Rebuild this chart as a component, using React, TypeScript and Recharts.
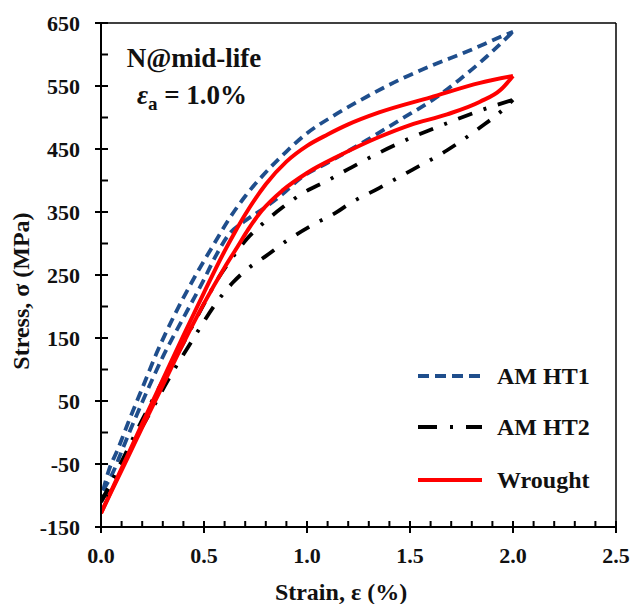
import { LineChart, Line, XAxis, YAxis, ReferenceLine } from "recharts";

// strain (%) / stress (MPa) pairs, each loop split into its two branches
const ht1Upper: [number, number][] = [
  [0.01, -92], [0.04, -58], [0.08, -28], [0.13, 14], [0.2, 70], [0.27, 126],
  [0.35, 182], [0.45, 244], [0.55, 300], [0.62, 338], [0.7, 375], [0.8, 413],
  [0.9, 446], [1.0, 475], [1.13, 503], [1.29, 533], [1.45, 560], [1.61, 583],
  [1.78, 605], [1.94, 628], [2.0, 636],
];
const ht1Lower: [number, number][] = [
  [0.01, -92], [0.06, -62], [0.1, -30], [0.15, 10], [0.2, 48], [0.3, 120],
  [0.4, 182], [0.5, 243], [0.56, 282], [0.62, 314], [0.7, 336], [0.8, 358],
  [0.88, 378], [0.97, 404], [1.1, 428], [1.29, 464], [1.45, 496], [1.61, 528],
  [1.74, 560], [1.87, 596], [2.0, 636],
];
const ht2Upper: [number, number][] = [
  [0, -110], [0.06, -72], [0.1, -46], [0.2, 20], [0.3, 82], [0.4, 142],
  [0.5, 204], [0.56, 240], [0.63, 274], [0.71, 308], [0.79, 333], [0.88, 357],
  [0.98, 380], [1.1, 400], [1.2, 418], [1.35, 444], [1.5, 467], [1.68, 491],
  [1.84, 511], [2.0, 528],
];
const ht2Lower: [number, number][] = [
  [0, -110], [0.05, -82], [0.1, -52], [0.18, -2], [0.25, 38], [0.32, 80],
  [0.37, 108], [0.42, 134], [0.48, 166], [0.56, 206], [0.64, 238], [0.72, 262],
  [0.8, 280], [0.9, 304], [1.03, 330], [1.15, 351], [1.2, 362], [1.35, 388],
  [1.5, 415], [1.68, 448], [1.84, 484], [1.95, 512], [2.0, 528],
];
const wroughtUpper: [number, number][] = [
  [0, -128], [0.1, -57], [0.2, 14], [0.3, 84], [0.4, 154], [0.5, 222],
  [0.6, 288], [0.65, 318], [0.7, 346], [0.8, 394], [0.9, 430], [1.0, 455],
  [1.1, 473], [1.2, 489], [1.35, 508], [1.6, 532], [1.84, 555], [2.0, 566],
];
const wroughtLower: [number, number][] = [
  [0, -128], [0.1, -60], [0.2, 8], [0.3, 75], [0.4, 142], [0.5, 205],
  [0.6, 262], [0.665, 296], [0.714, 322], [0.78, 352], [0.88, 384], [1.0, 412],
  [1.16, 440], [1.35, 469], [1.5, 488], [1.68, 505], [1.84, 525], [1.94, 544],
  [2.0, 566],
];

const strainTicks = [
  0, 0.1, 0.2, 0.3, 0.4, 0.5, 0.6, 0.7, 0.8, 0.9, 1.0, 1.1, 1.2, 1.3, 1.4,
  1.5, 1.6, 1.7, 1.8, 1.9, 2.0, 2.1, 2.2, 2.3, 2.4, 2.5,
];
const stressTicks = [
  -150, -100, -50, 0, 50, 100, 150, 200, 250, 300, 350, 400, 450, 500, 550,
  600, 650,
];

const W = 634;
const H = 604;
const LEFT = 101;
const BOTTOM = 527;
const FONT = "'Liberation Serif', 'Times New Roman', serif";
const INK = "#111";
const BLUE = "#1F4E8C";
const RED = "#FF0000";

const toPoints = (pairs: [number, number][]) =>
  pairs.map(([x, y]) => ({ x, y }));

const XTick = (props: any) => {
  const { x, payload } = props;
  const v = payload.value as number;
  const major = Math.round(v * 10) % 5 === 0;
  return (
    <g>
      <line
        x1={x}
        x2={x}
        y1={BOTTOM - 6}
        y2={major ? BOTTOM + 6 : BOTTOM}
        stroke="#000"
        strokeWidth={2}
      />
      {major && (
        <text
          x={x}
          y={BOTTOM + 28}
          textAnchor="middle"
          dominantBaseline="central"
          fontFamily={FONT}
          fontWeight="bold"
          fontSize={22}
          fill={INK}
        >
          {v.toFixed(1)}
        </text>
      )}
    </g>
  );
};

const YTick = (props: any) => {
  const { y, payload } = props;
  const v = payload.value as number;
  const major = (v + 150) % 100 === 0;
  return (
    <g>
      <line
        x1={major ? LEFT - 6 : LEFT}
        x2={LEFT + 7}
        y1={y}
        y2={y}
        stroke="#000"
        strokeWidth={2}
      />
      {major && (
        <text
          x={LEFT - 21}
          y={y}
          textAnchor="end"
          dominantBaseline="central"
          fontFamily={FONT}
          fontWeight="bold"
          fontSize={22}
          fill={INK}
        >
          {v}
        </text>
      )}
    </g>
  );
};

const series = [
  { key: "ht1u", data: ht1Upper, color: BLUE, dash: "10 6", width: 3.8 },
  { key: "ht1l", data: ht1Lower, color: BLUE, dash: "10 6", width: 3.8 },
  { key: "ht2u", data: ht2Upper, color: "#000", dash: "15 12 3 12", width: 3.8 },
  { key: "ht2l", data: ht2Lower, color: "#000", dash: "15 12 3 12", width: 3.8 },
  { key: "wu", data: wroughtUpper, color: RED, dash: undefined, width: 4 },
  { key: "wl", data: wroughtLower, color: RED, dash: undefined, width: 4 },
];

const legendItems = [
  { label: "AM HT1", color: BLUE, dash: "11 6", y: 376 },
  { label: "AM HT2", color: "#000", dash: "19 13 3 13", y: 427 },
  { label: "Wrought", color: RED, dash: undefined, y: 480 },
];

export default function App() {
  return (
    <div
      style={{
        position: "absolute",
        left: 0,
        top: 0,
        width: W,
        height: H,
        background: "#fff",
      }}
    >
      <LineChart
        width={W}
        height={H}
        margin={{ top: 23, right: 18, bottom: 0, left: 0 }}
      >
        <XAxis
          type="number"
          dataKey="x"
          domain={[0, 2.5]}
          ticks={strainTicks}
          interval={0}
          height={77}
          tick={<XTick />}
          tickLine={false}
          axisLine={{ stroke: "#000", strokeWidth: 2 }}
          allowDataOverflow
        />
        <YAxis
          type="number"
          dataKey="y"
          domain={[-150, 650]}
          ticks={stressTicks}
          interval={0}
          width={101}
          tick={<YTick />}
          tickLine={false}
          axisLine={{ stroke: "#000", strokeWidth: 2 }}
          allowDataOverflow
        />
        <ReferenceLine y={650} stroke="#000" strokeWidth={1.5} />
        <ReferenceLine x={2.5} stroke="#000" strokeWidth={1.5} />
        {series.map((s) => (
          <Line
            key={s.key}
            data={toPoints(s.data)}
            dataKey="y"
            type="monotone"
            stroke={s.color}
            strokeWidth={s.width}
            strokeDasharray={s.dash}
            strokeLinejoin="round"
            dot={false}
            activeDot={false}
            isAnimationActive={false}
          />
        ))}
      </LineChart>

      <svg
        width={W}
        height={H}
        style={{ position: "absolute", left: 0, top: 0, pointerEvents: "none" }}
      >
        <g fontFamily={FONT} fontWeight="bold" fill={INK}>
          <text x={194} y={67} textAnchor="middle" fontSize={27}>
            N@mid-life
          </text>
          <text x={192} y={104} textAnchor="middle" fontSize={27}>
            <tspan fontStyle="italic">ε</tspan>
            <tspan fontSize={19} dy={6}>a</tspan>
            <tspan dy={-6}> = 1.0%</tspan>
          </text>

          <text x={341} y={600} textAnchor="middle" fontSize={24}>
            Strain, ε (%)
          </text>
          <text
            x={21}
            y={291}
            textAnchor="middle"
            dominantBaseline="central"
            fontSize={24}
            transform="rotate(-90 21 291)"
          >
            Stress, σ (MPa)
          </text>

          {legendItems.map((it) => (
            <g key={it.label}>
              <line
                x1={418}
                x2={482}
                y1={it.y}
                y2={it.y}
                stroke={it.color}
                strokeWidth={4}
                strokeDasharray={it.dash}
              />
              <text x={497} y={it.y} dominantBaseline="central" fontSize={24}>
                {it.label}
              </text>
            </g>
          ))}
        </g>
      </svg>
    </div>
  );
}
